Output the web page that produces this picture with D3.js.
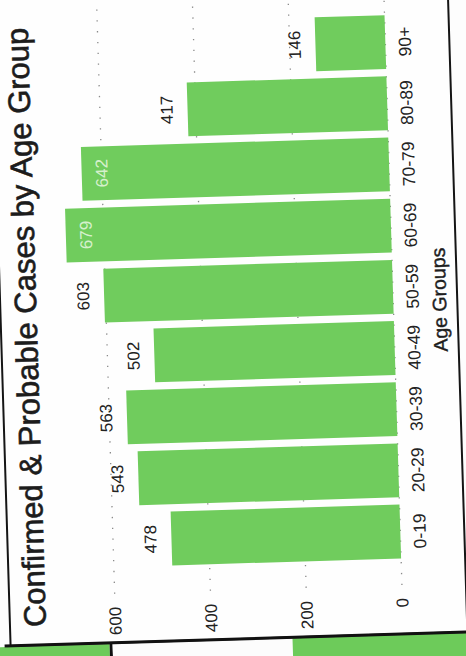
<!DOCTYPE html>
<html><head><meta charset="utf-8">
<script src="https://cdn.jsdelivr.net/npm/d3@7"></script>
<style>html,body{margin:0;padding:0;background:#fff;overflow:hidden}</style>
</head><body><svg id="c" width="466" height="656"></svg>
<script>
const categories = ["0-19","20-29","30-39","40-49","50-59","60-69","70-79","80-89","90+"];
const cases = [478,543,563,502,603,679,642,417,146];
const valueTicks = [0,200,400,600];
const titleText = "Confirmed & Probable Cases by Age Group";
const xTitleText = "Age Groups";

const font = "'Liberation Sans', Arial, sans-serif";
const barColor = "#70cc5d";
const data = categories.map((c,i)=>({cat:c, val:cases[i]}));

const svg = d3.select("#c");
svg.append("rect").attr("width",466).attr("height",656).attr("fill","#fdfdfd");

// chart drawn upright, then rotated as in the photo
const g = svg.append("g")
  .attr("transform","translate(233,328) rotate(-91.75) translate(-328,-233)");

// page strip beneath the frame
g.append("rect").attr("x",-40).attr("y",-40).attr("width",56).attr("height",140).attr("fill","#6dcb5a");
g.append("rect").attr("x",-40).attr("y",100).attr("width",56).attr("height",3).attr("fill","#111");
g.append("rect").attr("x",-40).attr("y",103).attr("width",56).attr("height",180).attr("fill","#fcfcfc");
g.append("rect").attr("x",-40).attr("y",283).attr("width",56).attr("height",220).attr("fill","#6dcb5a");

// frame
g.append("rect").attr("x",17).attr("y",1).attr("width",720).attr("height",457)
  .attr("fill","#fefefe").attr("stroke","#151515").attr("stroke-width",2);
g.append("line").attr("x1",17).attr("x2",17).attr("y1",-5).attr("y2",470)
  .attr("stroke","#111").attr("stroke-width",3);

const x = d3.scaleBand().domain(categories).range([74.2,654.4]).paddingInner(0.12).paddingOuter(0.3);
const y = d3.scaleLinear().domain([0,600]).range([394,106.6]);

// dotted gridlines
g.append("g").selectAll("line").data(valueTicks).join("line")
  .attr("x1",66).attr("x2",720)
  .attr("y1",d=>y(d)).attr("y2",d=>y(d))
  .attr("stroke","#8a8a8a").attr("stroke-width",1.3)
  .attr("stroke-dasharray","1.3,9.5");

// bars
g.append("g").selectAll("rect").data(data).join("rect")
  .attr("x",d=>x(d.cat)).attr("width",x.bandwidth())
  .attr("y",d=>y(d.val)).attr("height",d=>y(0)-y(d.val))
  .attr("fill",barColor);

// value labels
g.append("g").selectAll("text").data(data).join("text")
  .attr("x",d=>x(d.cat)+x.bandwidth()/2)
  .attr("y",d=>d.val>620 ? y(d.val)+26 : y(d.val)-15)
  .attr("text-anchor","middle")
  .attr("font-family",font).attr("font-size",17)
  .attr("fill",d=>d.val>620 ? "#f2fbec" : "#222")
  .attr("fill-opacity",d=>d.val>620 ? 0.8 : 1)
  .text(d=>d.val);

// category axis
const xAxis = g.append("g").attr("transform",`translate(0,${y(0)})`)
  .call(d3.axisBottom(x).tickSize(0).tickPadding(13));
xAxis.select(".domain").remove();
xAxis.selectAll("text").attr("font-family",font).attr("font-size",17.5).attr("fill","#222");

// value axis
const yAxis = g.append("g").attr("transform","translate(66,0)")
  .call(d3.axisLeft(y).tickValues(valueTicks).tickSize(0).tickPadding(13));
yAxis.select(".domain").remove();
yAxis.selectAll("text").attr("font-family",font).attr("font-size",17).attr("fill","#222");

// axis title
g.append("text").attr("x",350).attr("y",447).attr("text-anchor","middle")
  .attr("font-family",font).attr("font-size",19.5).attr("fill","#1e1e1e")
  .attr("stroke","#1e1e1e").attr("stroke-width",0.4)
  .text(xTitleText);

// chart title
g.append("text").attr("x",35).attr("y",37)
  .attr("font-family",font).attr("font-size",31).attr("fill","#1c1c1c")
  .attr("stroke","#1c1c1c").attr("stroke-width",0.6)
  .text(titleText);
</script></body></html>
